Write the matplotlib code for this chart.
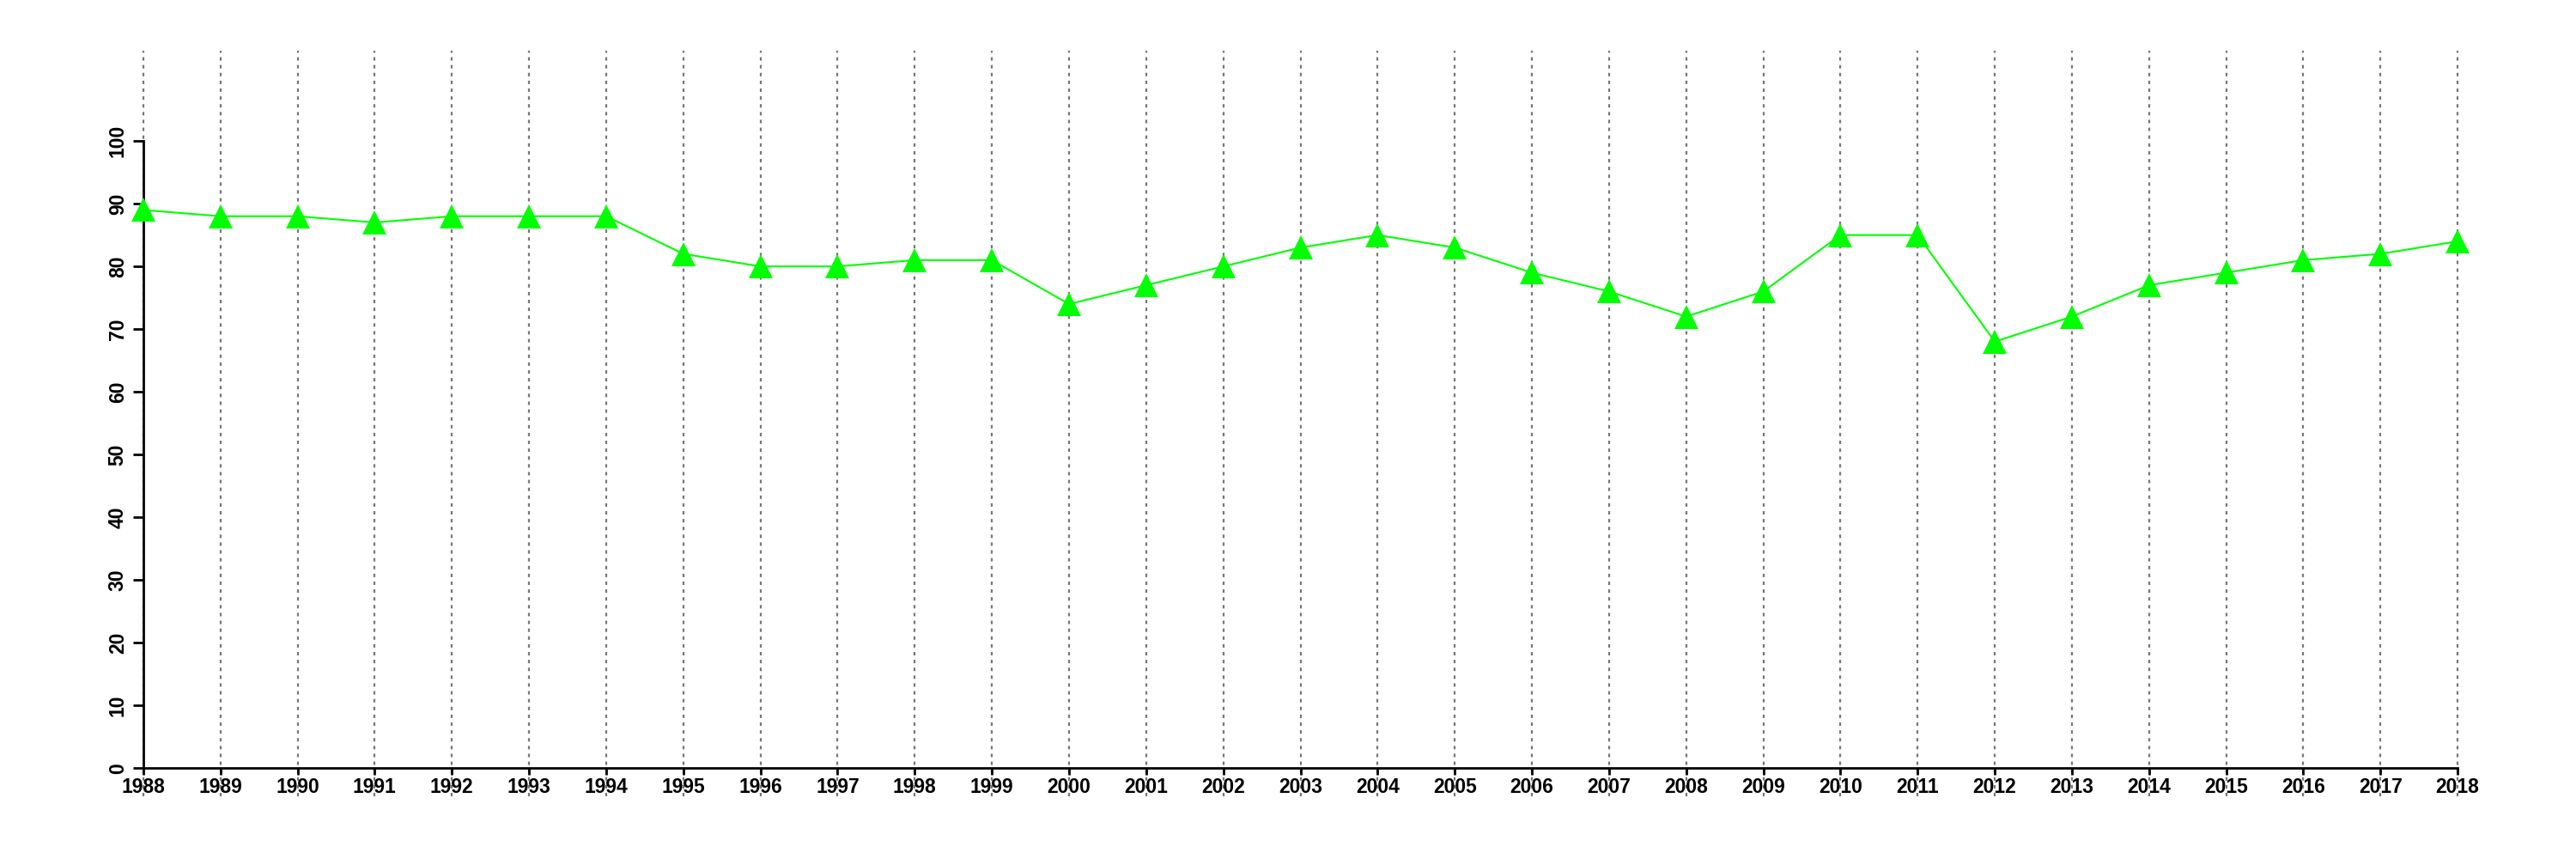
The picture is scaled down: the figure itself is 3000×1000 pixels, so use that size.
import matplotlib.pyplot as plt

# values
years = list(range(1988, 2019))
values = [89, 88, 88, 87, 88, 88, 88, 82, 80, 80, 81, 81, 74, 77, 80, 83,
          85, 83, 79, 76, 72, 76, 85, 85, 68, 72, 77, 79, 81, 82, 84]
y_ticks = [0, 10, 20, 30, 40, 50, 60, 70, 80, 90, 100]

plt.rcParams['font.family'] = ['Liberation Sans', 'DejaVu Sans']

fig = plt.figure(figsize=(30, 10), dpi=100)
ax = fig.add_axes([59 / 3000, 1 - 927 / 1000, (2970 - 59) / 3000, (927 - 59) / 1000])

# vertical dotted guides across the whole plot region
for yr in years:
    ax.axvline(yr, color='#777777', linestyle=(0, (1.8, 2.3)), linewidth=1.6, zorder=1)

ax.plot(years, values, color='#00ff00', linewidth=1.5, marker='^', markersize=20,
        markeredgewidth=0, zorder=3, clip_on=False)

ax.set_xlim(years[0] - 1.2, years[-1] + 1.2)
ax.set_ylim(-4.5, 114.4)

ax.spines['top'].set_visible(False)
ax.spines['right'].set_visible(False)
ax.spines['left'].set_bounds(0, 100)
ax.spines['left'].set_position(('data', years[0]))
ax.spines['bottom'].set_position(('data', 0))
ax.spines['bottom'].set_bounds(years[0], years[-1])
for s in ('left', 'bottom'):
    ax.spines[s].set_linewidth(2)

ax.set_xticks(years)
ax.set_xticklabels([str(y) for y in years], fontsize=16.5, fontweight='bold')
ax.set_yticks(y_ticks)
ax.set_yticklabels([str(t) for t in y_ticks], fontsize=16.5, fontweight='bold',
                   rotation=90, va='center')
ax.tick_params(axis='x', length=6, width=2, pad=2)
ax.tick_params(axis='y', length=9, width=2, pad=4)

fig.savefig('out.png', dpi=100)
